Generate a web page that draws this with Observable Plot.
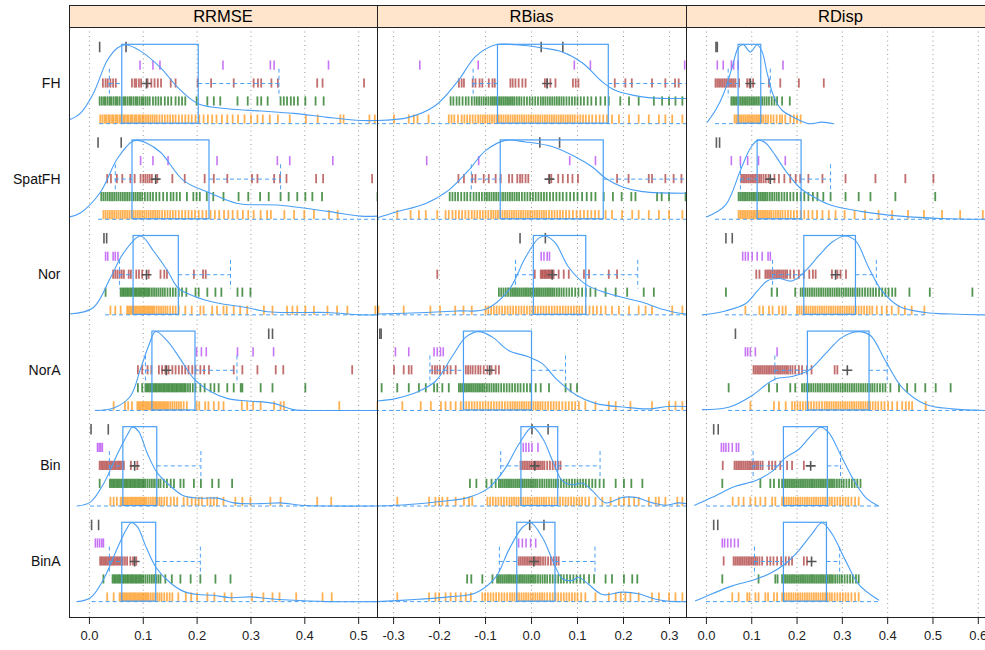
<!DOCTYPE html>
<html><head><meta charset="utf-8">
<script src="https://cdn.jsdelivr.net/npm/d3@7"></script>
<script src="https://cdn.jsdelivr.net/npm/@observablehq/plot@0.6"></script>
<style>
html,body{margin:0;padding:0;background:#fff;}
body{width:985px;height:650px;overflow:hidden;font-family:"Liberation Sans",Arial,sans-serif;}
#fig{position:relative;width:995px;height:650px;}
.pan{position:absolute;top:27px;}
.strip{position:absolute;top:5px;height:22px;background:#ffe5cc;text-align:center;font-size:16.5px;line-height:23px;color:#000;box-sizing:border-box;}
.ln{position:absolute;background:#222;}
</style></head>
<body><div id="fig"></div>
<script>
const methods = ["FH","SpatFH","Nor","NorA","Bin","BinA"];
const metricNames = ["RRMSE","RBias","RDisp"];
const rrmseTicks = [0,0.1,0.2,0.3,0.4,0.5];
const rbiasTicks = [-0.3,-0.2,-0.1,0,0.1,0.2,0.3];
const rdispTicks = [0,0.1,0.2,0.3,0.4,0.5,0.6];
const rrmseDomain = [-0.037,0.535];
const rbiasDomain = [-0.335,0.337];
const rdispDomain = [-0.044,0.638];

// ---------- RRMSE ----------
const rrmseGray = [[0.019,0.068],[0.016,0.059],[0.027,0.032],[0.333,0.340],[0.003,0.035],[0.004,0.017]];
const rrmsePurple = [
 [0.094,0.118,0.131,0.248,0.336,0.343,0.444],
 [0.095,0.118,0.146,0.237,0.349,0.372,0.452],
 [0.030,0.034,0.044,0.048,0.053],
 [0.199,0.208,0.217,0.275,0.304,0.342],
 [0.015,0.018,0.021,0.024],
 [0.011,0.015,0.019,0.023,0.026]];
const rrmseRed = [
 [0.025,0.030,0.034,0.039,0.044,0.049,0.079,0.084,0.087,0.092,0.096,0.108,0.115,0.121,0.127,0.133,0.151,0.160,0.201,0.226,0.268,0.305,0.313,0.319,0.338,0.350,0.423,0.433,0.510],
 [0.033,0.040,0.051,0.061,0.076,0.084,0.095,0.100,0.104,0.108,0.112,0.116,0.126,0.154,0.177,0.214,0.231,0.256,0.302,0.312,0.343,0.354,0.366,0.421,0.434,0.525],
 [0.044,0.048,0.052,0.056,0.060,0.064,0.073,0.077,0.087,0.092,0.098,0.110,0.132,0.139,0.144,0.194,0.211,0.216],
 [0.090,0.098,0.108,0.115,0.129,0.135,0.141,0.147,0.154,0.160,0.166,0.172,0.178,0.184,0.191,0.197,0.206,0.213,0.222,0.268,0.284,0.312,0.346,0.360,0.488],
 [0.019,0.022,0.025,0.028,0.031,0.034,0.037,0.040,0.043,0.046,0.049,0.052,0.055,0.058,0.061,0.064,0.077,0.089],
 [0.020,0.023,0.026,0.029,0.032,0.035,0.038,0.041,0.044,0.047,0.050,0.053,0.056,0.059,0.062,0.066,0.070,0.076,0.081,0.087]];
const rrmseGreen = [
 [0.019,0.023,0.027,0.030,0.034,0.038,0.041,0.045,0.049,0.052,0.056,0.060,0.064,0.067,0.071,0.075,0.078,0.082,0.086,0.089,0.093,0.097,0.100,0.104,0.108,0.112,0.118,0.123,0.128,0.133,0.140,0.146,0.152,0.160,0.166,0.172,0.178,0.199,0.219,0.231,0.243,0.275,0.294,0.312,0.319,0.331,0.355,0.361,0.367,0.374,0.380,0.387,0.401,0.420,0.435],
 [0.022,0.026,0.030,0.034,0.038,0.042,0.046,0.050,0.054,0.058,0.062,0.066,0.070,0.074,0.078,0.082,0.086,0.090,0.094,0.098,0.103,0.108,0.113,0.118,0.124,0.130,0.137,0.144,0.151,0.156,0.162,0.168,0.181,0.193,0.199,0.205,0.218,0.230,0.249,0.277,0.295,0.317,0.333,0.355,0.370,0.386,0.401,0.414,0.432,0.535],
 [0.030,0.058,0.061,0.064,0.067,0.070,0.073,0.076,0.079,0.082,0.085,0.088,0.091,0.094,0.097,0.100,0.103,0.106,0.109,0.112,0.116,0.120,0.124,0.128,0.132,0.136,0.140,0.145,0.150,0.155,0.160,0.166,0.172,0.180,0.197,0.203,0.219,0.234,0.245,0.275,0.284,0.299],
 [0.090,0.098,0.104,0.107,0.110,0.113,0.116,0.119,0.122,0.125,0.128,0.131,0.134,0.137,0.140,0.143,0.146,0.149,0.152,0.155,0.158,0.161,0.164,0.167,0.170,0.173,0.176,0.179,0.183,0.187,0.192,0.197,0.206,0.214,0.225,0.232,0.240,0.256,0.268,0.281,0.284,0.318,0.340,0.401],
 [0.019,0.038,0.041,0.044,0.047,0.050,0.053,0.056,0.059,0.062,0.065,0.068,0.071,0.074,0.077,0.080,0.083,0.086,0.089,0.092,0.095,0.098,0.101,0.104,0.108,0.112,0.116,0.120,0.124,0.128,0.132,0.138,0.144,0.151,0.157,0.169,0.175,0.194,0.207,0.228,0.240,0.265],
 [0.026,0.043,0.046,0.049,0.052,0.055,0.058,0.061,0.064,0.067,0.070,0.073,0.076,0.079,0.082,0.085,0.088,0.091,0.094,0.097,0.100,0.104,0.108,0.112,0.116,0.120,0.124,0.128,0.132,0.141,0.153,0.169,0.188,0.206,0.234,0.262]];
const rrmseOrange = [
 [0.020,0.024,0.028,0.031,0.035,0.038,0.042,0.045,0.049,0.052,0.056,0.059,0.063,0.066,0.070,0.073,0.077,0.080,0.084,0.087,0.091,0.094,0.098,0.101,0.105,0.109,0.113,0.117,0.121,0.125,0.130,0.135,0.140,0.145,0.150,0.155,0.160,0.166,0.172,0.178,0.184,0.190,0.197,0.204,0.212,0.220,0.228,0.236,0.246,0.256,0.266,0.276,0.288,0.300,0.312,0.322,0.335,0.350,0.372,0.402,0.424,0.466,0.472,0.520,0.530],
 [0.026,0.030,0.034,0.038,0.042,0.046,0.050,0.054,0.058,0.062,0.066,0.070,0.074,0.078,0.082,0.086,0.090,0.094,0.098,0.102,0.106,0.110,0.114,0.118,0.122,0.126,0.130,0.135,0.140,0.145,0.150,0.155,0.160,0.166,0.172,0.178,0.184,0.190,0.196,0.203,0.210,0.217,0.225,0.233,0.241,0.250,0.258,0.266,0.275,0.285,0.295,0.305,0.318,0.330,0.337,0.362,0.380,0.399,0.417,0.445,0.461],
 [0.039,0.048,0.058,0.070,0.073,0.076,0.079,0.082,0.085,0.088,0.091,0.094,0.097,0.100,0.103,0.106,0.109,0.112,0.115,0.118,0.121,0.125,0.129,0.133,0.137,0.141,0.145,0.150,0.155,0.160,0.166,0.178,0.190,0.206,0.212,0.228,0.237,0.249,0.255,0.268,0.280,0.293,0.324,0.340,0.367,0.377,0.386,0.401,0.417,0.442,0.460,0.479,0.531],
 [0.045,0.066,0.072,0.079,0.089,0.092,0.095,0.098,0.101,0.104,0.107,0.110,0.113,0.116,0.119,0.122,0.125,0.128,0.131,0.134,0.137,0.140,0.143,0.146,0.150,0.154,0.158,0.162,0.166,0.170,0.175,0.181,0.199,0.204,0.215,0.221,0.231,0.240,0.249,0.283,0.293,0.304,0.318,0.343,0.355,0.361,0.464,0.535],
 [0.039,0.045,0.051,0.058,0.061,0.064,0.067,0.070,0.073,0.076,0.079,0.082,0.085,0.088,0.091,0.094,0.097,0.100,0.103,0.106,0.110,0.114,0.118,0.122,0.126,0.130,0.134,0.139,0.144,0.151,0.157,0.163,0.175,0.182,0.190,0.197,0.203,0.209,0.219,0.225,0.231,0.237,0.249,0.271,0.284,0.299,0.336,0.355,0.423,0.449],
 [0.033,0.045,0.056,0.059,0.062,0.065,0.068,0.071,0.074,0.077,0.080,0.083,0.086,0.089,0.092,0.095,0.098,0.101,0.104,0.107,0.110,0.114,0.118,0.122,0.126,0.130,0.134,0.139,0.144,0.149,0.154,0.165,0.179,0.189,0.200,0.219,0.232,0.251,0.264,0.302,0.323,0.340,0.353,0.384,0.433,0.450]];
const rrmseMean = [0.106,0.123,0.106,0.143,0.084,0.084];
const rrmseBox = [[0.061,0.203],[0.080,0.223],[0.082,0.166],[0.117,0.197],[0.063,0.126],[0.061,0.124]];
const rrmseWhisk = [[0.037,0.352],[0.048,0.355],[0.056,0.262],[0.104,0.274],[0.037,0.207],[0.037,0.206]];
const rrmseBase = [[0.019,0.56],[0.017,0.56],[0.030,0.56],[0.011,0.56],[0.002,0.56],[0.005,0.56]];
const rrmseDens = [
 [[-0.037,0.05],[-0.017,0.13],[0.007,0.38],[0.033,0.80],[0.052,0.96],[0.067,1.0],[0.095,0.92],[0.132,0.71],[0.164,0.46],[0.203,0.25],[0.257,0.19],[0.318,0.16],[0.379,0.13],[0.442,0.08],[0.504,0.04],[0.535,0.04]],
 [[-0.037,0.03],[-0.017,0.08],[0.020,0.34],[0.052,0.77],[0.080,0.99],[0.090,1.0],[0.105,0.97],[0.132,0.85],[0.175,0.49],[0.225,0.33],[0.275,0.20],[0.349,0.18],[0.442,0.10],[0.504,0.04],[0.535,0.04]],
 [[-0.037,0.01],[0.007,0.09],[0.039,0.47],[0.063,0.78],[0.095,1.0],[0.119,0.81],[0.145,0.56],[0.165,0.34],[0.193,0.24],[0.238,0.15],[0.286,0.10],[0.331,0.04],[0.379,0.03],[0.442,0.03],[0.504,0.0],[0.535,0.0]],
 [[0.011,0.0],[0.045,0.03],[0.076,0.18],[0.095,0.53],[0.110,0.82],[0.123,1.0],[0.145,0.88],[0.169,0.65],[0.193,0.41],[0.225,0.24],[0.257,0.15],[0.294,0.12],[0.342,0.09],[0.379,0.01],[0.442,0.0],[0.535,0.0]],
 [[-0.023,0.0],[0.002,0.05],[0.026,0.28],[0.052,0.66],[0.071,0.91],[0.080,1.0],[0.091,0.95],[0.108,0.66],[0.126,0.42],[0.151,0.25],[0.175,0.13],[0.206,0.10],[0.238,0.10],[0.268,0.04],[0.318,0.03],[0.355,0.04],[0.392,0.01],[0.442,0.0],[0.535,0.0]],
 [[-0.023,0.0],[0.002,0.05],[0.026,0.28],[0.052,0.68],[0.069,0.92],[0.078,1.0],[0.089,0.95],[0.106,0.68],[0.124,0.43],[0.150,0.24],[0.175,0.13],[0.200,0.09],[0.230,0.08],[0.262,0.05],[0.300,0.06],[0.330,0.04],[0.370,0.02],[0.442,0.0],[0.535,0.0]]];

// ---------- RBias ----------
const rbiasGray = [[0.021,0.068],[0.018,0.061],[-0.025,0.030],[-0.330,-0.327],[0.001,0.036],[-0.004,0.027]];
const rbiasPurple = [
 [-0.243,-0.116,0.093,0.128,0.333],
 [-0.228,-0.115,0.083,0.139],
 [0.021,0.027,0.034,0.039],
 [-0.296,-0.267,-0.212,-0.205,-0.198,-0.192],
 [-0.018,-0.012,-0.006,0.001,0.014],
 [-0.028,-0.020,-0.012,-0.002,0.009]];
const rbiasRed = [
 [-0.158,-0.152,-0.147,-0.128,-0.122,-0.113,-0.107,-0.093,-0.085,-0.080,-0.046,-0.041,-0.035,-0.028,-0.020,-0.013,0.029,0.034,0.041,0.052,0.090,0.096,0.102,0.181,0.204,0.218,0.262,0.291,0.312,0.320],
 [-0.159,-0.147,-0.129,-0.122,-0.104,-0.093,-0.078,-0.067,-0.049,-0.042,-0.031,-0.025,-0.020,-0.013,-0.007,0.038,0.043,0.058,0.068,0.079,0.089,0.101,0.186,0.211,0.255,0.262,0.291,0.309,0.326],
 [-0.205,0.007,0.020,0.023,0.026,0.029,0.032,0.035,0.038,0.041,0.044,0.048,0.059,0.070,0.081,0.114,0.125,0.168,0.186],
 [-0.299,-0.278,-0.267,-0.261,-0.216,-0.210,-0.205,-0.199,-0.191,-0.183,-0.176,-0.165,-0.143,-0.138,-0.133,-0.128,-0.122,-0.116,-0.111,-0.104,-0.096,-0.087,-0.078,-0.071],
 [-0.024,-0.020,-0.016,-0.012,-0.008,-0.004,0.000,0.004,0.008,0.012,0.016,0.020,0.024,0.028,0.034,0.040,0.046,0.052,0.058,0.063],
 [-0.028,-0.024,-0.020,-0.016,-0.012,-0.008,-0.004,0.000,0.004,0.008,0.012,0.016,0.020,0.025,0.030,0.036,0.042,0.048,0.054,0.059]];
const rbiasGreen = [
 [-0.176,-0.170,-0.163,-0.157,-0.150,-0.143,-0.137,-0.130,-0.124,-0.119,-0.114,-0.109,-0.104,-0.099,-0.094,-0.089,-0.085,-0.081,-0.077,-0.073,-0.069,-0.065,-0.061,-0.057,-0.053,-0.049,-0.045,-0.041,-0.037,-0.032,-0.027,-0.022,-0.016,-0.010,-0.004,0.002,0.008,0.014,0.020,0.025,0.030,0.035,0.040,0.045,0.050,0.055,0.060,0.065,0.070,0.076,0.082,0.088,0.094,0.100,0.107,0.114,0.122,0.130,0.140,0.150,0.160,0.168,0.193,0.212,0.233,0.266,0.284,0.299,0.313,0.328],
 [-0.178,-0.172,-0.166,-0.160,-0.153,-0.146,-0.140,-0.133,-0.126,-0.120,-0.114,-0.108,-0.102,-0.097,-0.092,-0.087,-0.082,-0.077,-0.072,-0.067,-0.062,-0.057,-0.052,-0.047,-0.042,-0.037,-0.032,-0.027,-0.021,-0.015,-0.009,-0.003,0.003,0.009,0.015,0.021,0.027,0.033,0.040,0.047,0.054,0.061,0.068,0.076,0.084,0.092,0.100,0.110,0.120,0.130,0.139,0.157,0.177,0.196,0.217,0.226,0.273,0.283,0.299,0.335],
 [-0.071,-0.066,-0.061,-0.056,-0.051,-0.046,-0.042,-0.038,-0.034,-0.030,-0.026,-0.022,-0.018,-0.014,-0.010,-0.006,-0.002,0.002,0.006,0.010,0.014,0.018,0.022,0.026,0.030,0.034,0.038,0.042,0.046,0.050,0.055,0.060,0.065,0.070,0.076,0.082,0.088,0.095,0.102,0.110,0.118,0.128,0.139,0.161,0.183,0.208,0.244,0.266],
 [-0.326,-0.292,-0.267,-0.245,-0.230,-0.212,-0.205,-0.194,-0.180,-0.158,-0.154,-0.150,-0.146,-0.142,-0.138,-0.134,-0.130,-0.126,-0.122,-0.118,-0.114,-0.110,-0.106,-0.102,-0.097,-0.092,-0.087,-0.082,-0.077,-0.072,-0.066,-0.060,-0.054,-0.048,-0.042,-0.036,-0.030,-0.024,-0.017,-0.010,-0.003,0.009,0.020,0.038,0.074,0.085,0.099],
 [-0.134,-0.120,-0.098,-0.087,-0.078,-0.071,-0.067,-0.063,-0.059,-0.055,-0.051,-0.047,-0.043,-0.039,-0.035,-0.031,-0.027,-0.023,-0.019,-0.015,-0.011,-0.007,-0.003,0.001,0.005,0.009,0.013,0.018,0.023,0.028,0.033,0.038,0.043,0.048,0.053,0.058,0.064,0.070,0.076,0.082,0.088,0.094,0.100,0.106,0.112,0.118,0.125,0.132,0.139,0.148,0.157,0.183,0.201,0.217,0.241],
 [-0.140,-0.131,-0.107,-0.085,-0.075,-0.071,-0.067,-0.063,-0.059,-0.055,-0.051,-0.047,-0.043,-0.039,-0.035,-0.031,-0.027,-0.023,-0.019,-0.015,-0.011,-0.007,-0.003,0.001,0.005,0.009,0.014,0.019,0.024,0.029,0.034,0.040,0.046,0.052,0.058,0.064,0.070,0.077,0.084,0.091,0.098,0.106,0.114,0.125,0.136,0.161,0.175,0.201,0.219,0.230]];
const rbiasOrange = [
 [-0.299,-0.267,-0.256,-0.248,-0.224,-0.180,-0.174,-0.168,-0.160,-0.152,-0.146,-0.140,-0.134,-0.128,-0.122,-0.116,-0.111,-0.106,-0.101,-0.096,-0.091,-0.086,-0.081,-0.076,-0.071,-0.066,-0.061,-0.056,-0.051,-0.046,-0.041,-0.036,-0.031,-0.026,-0.021,-0.016,-0.011,-0.006,-0.001,0.004,0.009,0.014,0.019,0.024,0.029,0.034,0.039,0.044,0.049,0.054,0.059,0.064,0.069,0.074,0.079,0.084,0.089,0.094,0.100,0.106,0.112,0.118,0.125,0.132,0.140,0.148,0.156,0.164,0.175,0.190,0.212,0.233,0.255,0.277,0.291,0.306,0.328],
 [-0.292,-0.263,-0.245,-0.230,-0.205,-0.187,-0.180,-0.172,-0.165,-0.158,-0.151,-0.144,-0.137,-0.130,-0.124,-0.118,-0.112,-0.106,-0.100,-0.094,-0.088,-0.083,-0.078,-0.073,-0.068,-0.063,-0.058,-0.053,-0.048,-0.043,-0.038,-0.033,-0.028,-0.023,-0.018,-0.013,-0.008,-0.003,0.002,0.007,0.012,0.017,0.022,0.027,0.032,0.038,0.044,0.050,0.056,0.062,0.068,0.075,0.082,0.090,0.098,0.106,0.114,0.122,0.130,0.138,0.146,0.161,0.175,0.197,0.219,0.233,0.255,0.277,0.299,0.328],
 [-0.333,-0.278,-0.220,-0.199,-0.166,-0.148,-0.130,-0.100,-0.094,-0.088,-0.082,-0.076,-0.070,-0.064,-0.058,-0.052,-0.046,-0.040,-0.034,-0.028,-0.022,-0.016,-0.010,-0.004,0.002,0.008,0.014,0.020,0.026,0.032,0.038,0.044,0.050,0.056,0.062,0.068,0.074,0.080,0.086,0.092,0.098,0.104,0.110,0.118,0.126,0.134,0.142,0.151,0.161,0.175,0.190,0.212,0.233,0.248,0.262,0.306,0.328],
 [-0.281,-0.241,-0.219,-0.197,-0.187,-0.176,-0.165,-0.154,-0.148,-0.142,-0.136,-0.130,-0.124,-0.118,-0.112,-0.106,-0.100,-0.094,-0.088,-0.082,-0.076,-0.070,-0.064,-0.058,-0.052,-0.046,-0.041,-0.036,-0.031,-0.026,-0.021,-0.016,-0.011,-0.006,-0.001,0.004,0.009,0.014,0.019,0.024,0.030,0.036,0.042,0.048,0.054,0.060,0.067,0.074,0.081,0.088,0.095,0.103,0.117,0.139,0.168,0.183,0.215,0.262,0.299,0.313,0.328],
 [-0.292,-0.223,-0.209,-0.201,-0.194,-0.183,-0.165,-0.147,-0.136,-0.129,-0.096,-0.090,-0.084,-0.078,-0.072,-0.066,-0.060,-0.054,-0.048,-0.043,-0.038,-0.033,-0.028,-0.023,-0.018,-0.013,-0.008,-0.003,0.002,0.007,0.012,0.017,0.022,0.027,0.032,0.038,0.044,0.050,0.056,0.062,0.068,0.074,0.080,0.086,0.092,0.098,0.104,0.110,0.117,0.125,0.139,0.154,0.172,0.190,0.201,0.212,0.223,0.233,0.255,0.270,0.277,0.291,0.317,0.328],
 [-0.292,-0.223,-0.209,-0.201,-0.187,-0.176,-0.165,-0.154,-0.143,-0.132,-0.107,-0.101,-0.095,-0.089,-0.083,-0.077,-0.071,-0.065,-0.059,-0.053,-0.047,-0.042,-0.037,-0.032,-0.027,-0.022,-0.017,-0.012,-0.007,-0.002,0.003,0.008,0.013,0.018,0.023,0.028,0.034,0.040,0.046,0.052,0.058,0.064,0.070,0.076,0.082,0.088,0.094,0.100,0.108,0.117,0.139,0.168,0.183,0.194,0.204,0.215,0.233,0.262,0.277,0.299,0.313,0.328]];
const rbiasMean = [0.034,0.039,0.045,-0.091,0.007,0.005];
const rbiasBox = [[-0.073,0.168],[-0.067,0.157],[0.005,0.119],[-0.147,0.001],[-0.022,0.058],[-0.031,0.052]];
const rbiasWhisk = [[-0.127,0.40],[-0.131,0.40],[-0.035,0.231],[-0.221,0.074],[-0.067,0.149],[-0.070,0.138]];
const rbiasBase = [[-0.40,0.40],[-0.40,0.40],[-0.40,0.40],[-0.40,0.40],[-0.40,0.40],[-0.40,0.40]];
const rbiasDens = [
 [[-0.335,0.04],[-0.267,0.08],[-0.209,0.23],[-0.159,0.55],[-0.122,0.85],[-0.078,1.0],[-0.035,1.0],[0.024,0.96],[0.067,0.91],[0.111,0.77],[0.154,0.53],[0.183,0.42],[0.241,0.34],[0.291,0.32],[0.337,0.32]],
 [[-0.335,0.02],[-0.296,0.09],[-0.230,0.20],[-0.180,0.37],[-0.137,0.62],[-0.100,0.87],[-0.057,1.0],[-0.013,0.98],[0.046,0.92],[0.096,0.79],[0.133,0.66],[0.161,0.52],[0.198,0.41],[0.241,0.35],[0.339,0.33]],
 [[-0.335,0.01],[-0.230,0.03],[-0.159,0.05],[-0.100,0.07],[-0.050,0.31],[-0.013,0.73],[0.015,0.97],[0.030,1.0],[0.052,0.91],[0.080,0.61],[0.117,0.39],[0.167,0.27],[0.241,0.16],[0.285,0.07],[0.313,0.03],[0.337,0.01]],
 [[-0.335,0.12],[-0.296,0.15],[-0.246,0.24],[-0.209,0.37],[-0.172,0.69],[-0.143,0.93],[-0.115,1.0],[-0.085,0.93],[-0.050,0.76],[-0.007,0.68],[0.024,0.59],[0.052,0.41],[0.096,0.20],[0.139,0.09],[0.204,0.04],[0.254,0.02],[0.298,0.05],[0.337,0.05]],
 [[-0.335,0.0],[-0.267,0.02],[-0.193,0.06],[-0.137,0.11],[-0.093,0.23],[-0.057,0.48],[-0.028,0.78],[0.002,1.0],[0.024,0.86],[0.046,0.57],[0.067,0.32],[0.089,0.27],[0.111,0.29],[0.133,0.19],[0.161,0.04],[0.198,0.11],[0.226,0.11],[0.263,0.04],[0.291,0.01],[0.320,0.04],[0.337,0.03]],
 [[-0.335,0.0],[-0.246,0.03],[-0.180,0.06],[-0.122,0.11],[-0.078,0.31],[-0.050,0.65],[-0.020,0.94],[-0.002,1.0],[0.024,0.81],[0.046,0.52],[0.067,0.29],[0.089,0.27],[0.102,0.31],[0.124,0.22],[0.154,0.09],[0.198,0.12],[0.233,0.10],[0.270,0.03],[0.313,0.0],[0.337,0.0]]];

// ---------- RDisp ----------
const rdispGray = [[0.021,0.024],[0.022,0.029],[0.043,0.057],[0.064],[0.016,0.026],[0.016,0.025]];
const rdispPurple = [
 [0.024,0.037,0.055,0.060,0.070,0.169],
 [0.055,0.075,0.091,0.115,0.174],
 [0.080,0.086,0.092,0.101,0.112,0.123,0.136,0.141],
 [0.086,0.091,0.097,0.108,0.156],
 [0.033,0.038,0.043,0.049,0.057,0.066,0.071],
 [0.035,0.040,0.047,0.054,0.062,0.070]];
const rdispRed = [
 [0.020,0.024,0.028,0.032,0.036,0.040,0.044,0.048,0.052,0.056,0.060,0.064,0.072,0.090,0.095,0.103,0.138,0.163,0.204,0.259],
 [0.077,0.081,0.085,0.089,0.093,0.097,0.101,0.105,0.109,0.113,0.117,0.121,0.126,0.131,0.137,0.150,0.160,0.172,0.185,0.197,0.207,0.225,0.256,0.307,0.373,0.439,0.501],
 [0.110,0.117,0.130,0.134,0.138,0.142,0.146,0.150,0.154,0.158,0.162,0.166,0.170,0.174,0.178,0.185,0.193,0.204,0.215,0.227,0.235,0.241,0.277,0.289,0.296,0.308],
 [0.104,0.108,0.112,0.116,0.120,0.124,0.128,0.132,0.136,0.140,0.144,0.148,0.152,0.156,0.160,0.164,0.168,0.172,0.176,0.180,0.185,0.190,0.196,0.204,0.211,0.222,0.232,0.283,0.289],
 [0.036,0.062,0.066,0.070,0.074,0.078,0.082,0.086,0.090,0.094,0.098,0.102,0.106,0.110,0.114,0.119,0.124,0.138,0.145,0.152,0.163,0.178,0.189,0.215],
 [0.038,0.060,0.064,0.068,0.072,0.076,0.080,0.084,0.088,0.092,0.096,0.100,0.104,0.108,0.112,0.117,0.123,0.134,0.141,0.148,0.156,0.165,0.175,0.182,0.189,0.215,0.222]];
const rdispGreen = [
 [0.055,0.059,0.063,0.067,0.071,0.075,0.079,0.083,0.087,0.091,0.095,0.099,0.103,0.107,0.111,0.115,0.119,0.123,0.128,0.133,0.138,0.144,0.150,0.156,0.167,0.184],
 [0.071,0.075,0.079,0.083,0.087,0.091,0.095,0.099,0.103,0.107,0.111,0.115,0.119,0.123,0.127,0.131,0.135,0.140,0.145,0.150,0.155,0.160,0.166,0.172,0.178,0.185,0.192,0.200,0.208,0.216,0.225,0.235,0.245,0.258,0.274,0.307,0.336,0.362,0.417,0.505],
 [0.043,0.144,0.156,0.196,0.208,0.213,0.218,0.223,0.228,0.233,0.238,0.243,0.248,0.253,0.258,0.263,0.268,0.273,0.278,0.283,0.288,0.293,0.298,0.303,0.308,0.313,0.318,0.323,0.328,0.333,0.338,0.344,0.350,0.356,0.362,0.368,0.374,0.381,0.388,0.395,0.402,0.410,0.417,0.448,0.493,0.587],
 [0.049,0.138,0.156,0.185,0.196,0.211,0.216,0.221,0.226,0.231,0.236,0.241,0.246,0.251,0.256,0.261,0.266,0.271,0.276,0.281,0.286,0.291,0.296,0.301,0.306,0.311,0.316,0.321,0.326,0.331,0.336,0.341,0.346,0.351,0.356,0.361,0.366,0.371,0.377,0.383,0.389,0.395,0.406,0.425,0.443,0.461,0.483,0.506,0.539],
 [0.035,0.119,0.141,0.149,0.160,0.167,0.171,0.175,0.179,0.183,0.187,0.191,0.195,0.199,0.203,0.207,0.211,0.215,0.219,0.223,0.227,0.231,0.235,0.239,0.243,0.247,0.251,0.255,0.259,0.263,0.267,0.271,0.275,0.279,0.283,0.288,0.293,0.298,0.303,0.309,0.315,0.321,0.327,0.333,0.340],
 [0.035,0.115,0.152,0.157,0.167,0.171,0.175,0.179,0.183,0.187,0.191,0.195,0.199,0.203,0.207,0.211,0.215,0.219,0.223,0.227,0.231,0.235,0.239,0.243,0.247,0.251,0.255,0.259,0.263,0.267,0.271,0.275,0.279,0.284,0.289,0.294,0.299,0.305,0.311,0.317,0.323,0.330,0.336]];
const rdispOrange = [
 [0.062,0.066,0.070,0.074,0.078,0.082,0.086,0.090,0.094,0.098,0.102,0.106,0.110,0.114,0.118,0.122,0.126,0.131,0.136,0.142,0.148,0.155,0.162,0.167,0.174,0.185,0.193,0.200,0.208],
 [0.071,0.075,0.079,0.083,0.087,0.091,0.095,0.099,0.103,0.107,0.111,0.115,0.119,0.123,0.127,0.131,0.135,0.139,0.143,0.148,0.153,0.158,0.163,0.168,0.174,0.180,0.186,0.193,0.200,0.208,0.216,0.225,0.234,0.244,0.256,0.270,0.285,0.305,0.327,0.350,0.380,0.410,0.445,0.480,0.520,0.560,0.610],
 [0.086,0.117,0.125,0.138,0.146,0.160,0.168,0.175,0.200,0.205,0.210,0.215,0.220,0.225,0.230,0.235,0.240,0.245,0.250,0.255,0.260,0.265,0.270,0.275,0.280,0.285,0.290,0.295,0.300,0.305,0.310,0.315,0.320,0.325,0.330,0.336,0.342,0.348,0.354,0.360,0.366,0.376,0.387,0.398,0.409,0.424,0.438,0.453,0.481],
 [0.097,0.149,0.160,0.175,0.189,0.195,0.201,0.207,0.213,0.219,0.225,0.231,0.237,0.243,0.249,0.255,0.261,0.266,0.271,0.276,0.281,0.286,0.291,0.296,0.301,0.306,0.311,0.316,0.321,0.326,0.331,0.336,0.341,0.346,0.351,0.356,0.361,0.367,0.373,0.379,0.386,0.393,0.401,0.410,0.421,0.432,0.440,0.447,0.454,0.484],
 [0.058,0.071,0.082,0.097,0.108,0.119,0.130,0.145,0.152,0.167,0.172,0.177,0.182,0.187,0.192,0.197,0.202,0.207,0.212,0.217,0.222,0.227,0.232,0.237,0.242,0.247,0.252,0.257,0.262,0.267,0.272,0.277,0.283,0.289,0.295,0.301,0.307,0.313,0.320,0.328,0.336],
 [0.057,0.071,0.090,0.095,0.108,0.115,0.130,0.136,0.149,0.156,0.167,0.172,0.177,0.182,0.187,0.192,0.197,0.202,0.207,0.212,0.217,0.222,0.227,0.232,0.237,0.242,0.247,0.252,0.257,0.262,0.267,0.272,0.277,0.283,0.289,0.295,0.301,0.307,0.313,0.320,0.328,0.336]];
const rdispMean = [0.097,0.141,0.285,0.311,0.230,0.232];
const rdispBox = [[0.071,0.121],[0.113,0.210],[0.216,0.330],[0.224,0.360],[0.171,0.268],[0.171,0.266]];
const rdispWhisk = [[0.048,0.141],[0.075,0.274],[0.146,0.375],[0.151,0.399],[0.103,0.296],[0.106,0.294]];
const rdispBase = [[0.020,0.196],[0.020,0.62],[0.042,0.483],[0.049,0.600],[0.0,0.38],[0.0,0.38]];
const rdispDens = [
 [[0.002,0.02],[0.020,0.17],[0.038,0.38],[0.057,0.72],[0.071,0.97],[0.082,1.0],[0.097,0.91],[0.112,1.0],[0.123,0.91],[0.134,0.64],[0.149,0.34],[0.167,0.17],[0.196,0.07],[0.226,0.0],[0.255,0.02],[0.281,0.0]],
 [[0.0,0.03],[0.042,0.18],[0.075,0.62],[0.097,0.90],[0.113,1.0],[0.130,0.97],[0.152,0.81],[0.174,0.62],[0.208,0.39],[0.241,0.27],[0.274,0.18],[0.340,0.10],[0.428,0.04],[0.517,0.01],[0.616,0.0]],
 [[-0.009,0.0],[0.042,0.05],[0.086,0.14],[0.112,0.30],[0.134,0.43],[0.160,0.46],[0.189,0.43],[0.219,0.56],[0.248,0.75],[0.277,0.92],[0.305,1.0],[0.329,0.94],[0.358,0.60],[0.388,0.30],[0.425,0.11],[0.483,0.03],[0.542,0.01],[0.616,0.0]],
 [[-0.009,0.01],[0.049,0.04],[0.101,0.19],[0.130,0.32],[0.152,0.40],[0.189,0.43],[0.226,0.51],[0.263,0.72],[0.300,0.93],[0.336,1.0],[0.362,0.95],[0.395,0.63],[0.432,0.29],[0.483,0.08],[0.542,0.02],[0.616,0.0]],
 [[-0.026,0.01],[0.013,0.11],[0.064,0.25],[0.108,0.32],[0.145,0.44],[0.174,0.61],[0.204,0.72],[0.226,0.86],[0.252,1.0],[0.270,0.93],[0.296,0.65],[0.322,0.36],[0.351,0.11],[0.380,0.0]],
 [[-0.024,0.01],[0.013,0.10],[0.057,0.20],[0.101,0.27],[0.138,0.35],[0.174,0.48],[0.204,0.65],[0.233,0.86],[0.255,1.0],[0.277,0.86],[0.307,0.52],[0.336,0.22],[0.380,0.02]]];

// ---------- drawing ----------
const BLUE = "#4a9ff5";
const groupStyle = [
 {off:-0.377, h:0.055, color:"#4d4d4d", op:0.9,  w:1.6},
 {off:-0.188, h:0.048, color:"#b447f2", op:0.75, w:1.6},
 {off:0,      h:0.048, color:"#a52a2a", op:0.68, w:1.8},
 {off:0.188,  h:0.048, color:"#006400", op:0.68, w:1.8},
 {off:0.377,  h:0.048, color:"#ff8c00", op:0.68, w:1.8}];
const BOX_TOP = -0.405, BOX_BOT = 0.42;

const panels = [
 {name:metricNames[0], left:0, width:377, ml:69, domain:rrmseDomain, ticks:rrmseTicks,
  groups:[rrmseGray,rrmsePurple,rrmseRed,rrmseGreen,rrmseOrange], mean:rrmseMean, box:rrmseBox, whisk:rrmseWhisk, base:rrmseBase, dens:rrmseDens},
 {name:metricNames[1], left:377, width:309, ml:0, domain:rbiasDomain, ticks:rbiasTicks,
  groups:[rbiasGray,rbiasPurple,rbiasRed,rbiasGreen,rbiasOrange], mean:rbiasMean, box:rbiasBox, whisk:rbiasWhisk, base:rbiasBase, dens:rbiasDens},
 {name:metricNames[2], left:686, width:309, ml:0, domain:rdispDomain, ticks:rdispTicks,
  groups:[rdispGray,rdispPurple,rdispRed,rdispGreen,rdispOrange], mean:rdispMean, box:rdispBox, whisk:rdispWhisk, base:rdispBase, dens:rdispDens}
];

const fig = document.getElementById("fig");

panels.forEach((p, pi) => {
  const marks = [];
  marks.push(Plot.gridX(p.ticks, {stroke:"#9a9a9a", strokeOpacity:1, strokeDasharray:"1,3.5"}));
  p.groups.forEach((g, gi) => {
    const st = groupStyle[gi];
    const rows = g.flatMap((vals, i) => vals.map(v => ({v, y1:i+st.off-st.h, y2:i+st.off+st.h})));
    marks.push(Plot.ruleX(rows, {x:"v", y1:"y1", y2:"y2", stroke:st.color, strokeOpacity:st.op, strokeWidth:st.w, clip:true}));
  });
  const baseRows = p.base.map((b,i)=>({a:b[0], b:b[1], y:i+BOX_BOT}));
  marks.push(Plot.ruleY(baseRows, {y:"y", x1:"a", x2:"b", stroke:BLUE, strokeDasharray:"4,3", clip:true}));
  const densRows = p.dens.flatMap((pts,i)=>pts.map(([v,d])=>({v, y:i+BOX_BOT-d*(BOX_BOT-BOX_TOP), m:i})));
  marks.push(Plot.line(densRows, {x:"v", y:"y", z:"m", stroke:BLUE, strokeWidth:1.1, curve:"catmull-rom", clip:true}));
  const boxRows = p.box.map((b,i)=>({a:b[0], b:b[1], t:i+BOX_TOP, bt:i+BOX_BOT}));
  marks.push(Plot.rect(boxRows, {x1:"a", x2:"b", y1:"t", y2:"bt", fill:"none", stroke:BLUE, strokeWidth:1.2, clip:true}));
  const whRows = p.whisk.flatMap((w,i)=>[{a:w[0], b:p.box[i][0], y:i},{a:p.box[i][1], b:w[1], y:i}]);
  marks.push(Plot.ruleY(whRows, {y:"y", x1:"a", x2:"b", stroke:BLUE, strokeDasharray:"4,3", clip:true}));
  const capRows = p.whisk.flatMap((w,i)=>[{v:w[0], y1:i-0.15, y2:i+0.15},{v:w[1], y1:i-0.15, y2:i+0.15}]);
  marks.push(Plot.ruleX(capRows, {x:"v", y1:"y1", y2:"y2", stroke:BLUE, strokeDasharray:"4,3", clip:true}));
  const meanRows = p.mean.map((m,i)=>({v:m, y:i}));
  marks.push(Plot.dot(meanRows, {x:"v", y:"y", symbol:"plus", r:3.3, stroke:"#555", strokeWidth:1.6}));
  marks.push(Plot.axisX({ticks:p.ticks, tickSize:7, tickPadding:6, fontSize:13, color:"#222", tickFormat:d=>d.toFixed(1)}));
  if (pi === 0) {
    marks.push(Plot.axisY({ticks:[0,1,2,3,4,5], tickFormat:i=>methods[i], tickSize:0, tickPadding:9, fontSize:14, color:"#111"}));
  }
  const svg = Plot.plot({
    width:p.width, height:623, marginLeft:p.ml, marginRight:0, marginTop:0, marginBottom:33,
    x:{domain:p.domain},
    y:{domain:[5.586,-0.586], axis: pi===0 ? undefined : null},
    style:{fontFamily:"'Liberation Sans', Arial, sans-serif", background:"transparent", overflow:"visible"},
    marks
  });
  const wrap = document.createElement("div");
  wrap.className = "pan";
  wrap.style.left = p.left + "px";
  wrap.appendChild(svg);
  fig.appendChild(wrap);

  const strip = document.createElement("div");
  strip.className = "strip";
  const sl = pi===0 ? 69 : p.left;
  strip.style.left = sl + "px";
  strip.style.width = (pi===0 ? 308 : 309) + "px";
  strip.textContent = p.name;
  fig.appendChild(strip);
});

function line(l,t,w,h){ const d=document.createElement("div"); d.className="ln"; Object.assign(d.style,{left:l+"px",top:t+"px",width:w+"px",height:h+"px"}); fig.appendChild(d); }
line(69,5,926,1);     // top
line(69,27,926,1);    // strip bottom
line(69,617,926,1);   // bottom
line(69,5,1,613);     // left
line(377,5,1,613);
line(686,5,1,613);
</script>
</body></html>
